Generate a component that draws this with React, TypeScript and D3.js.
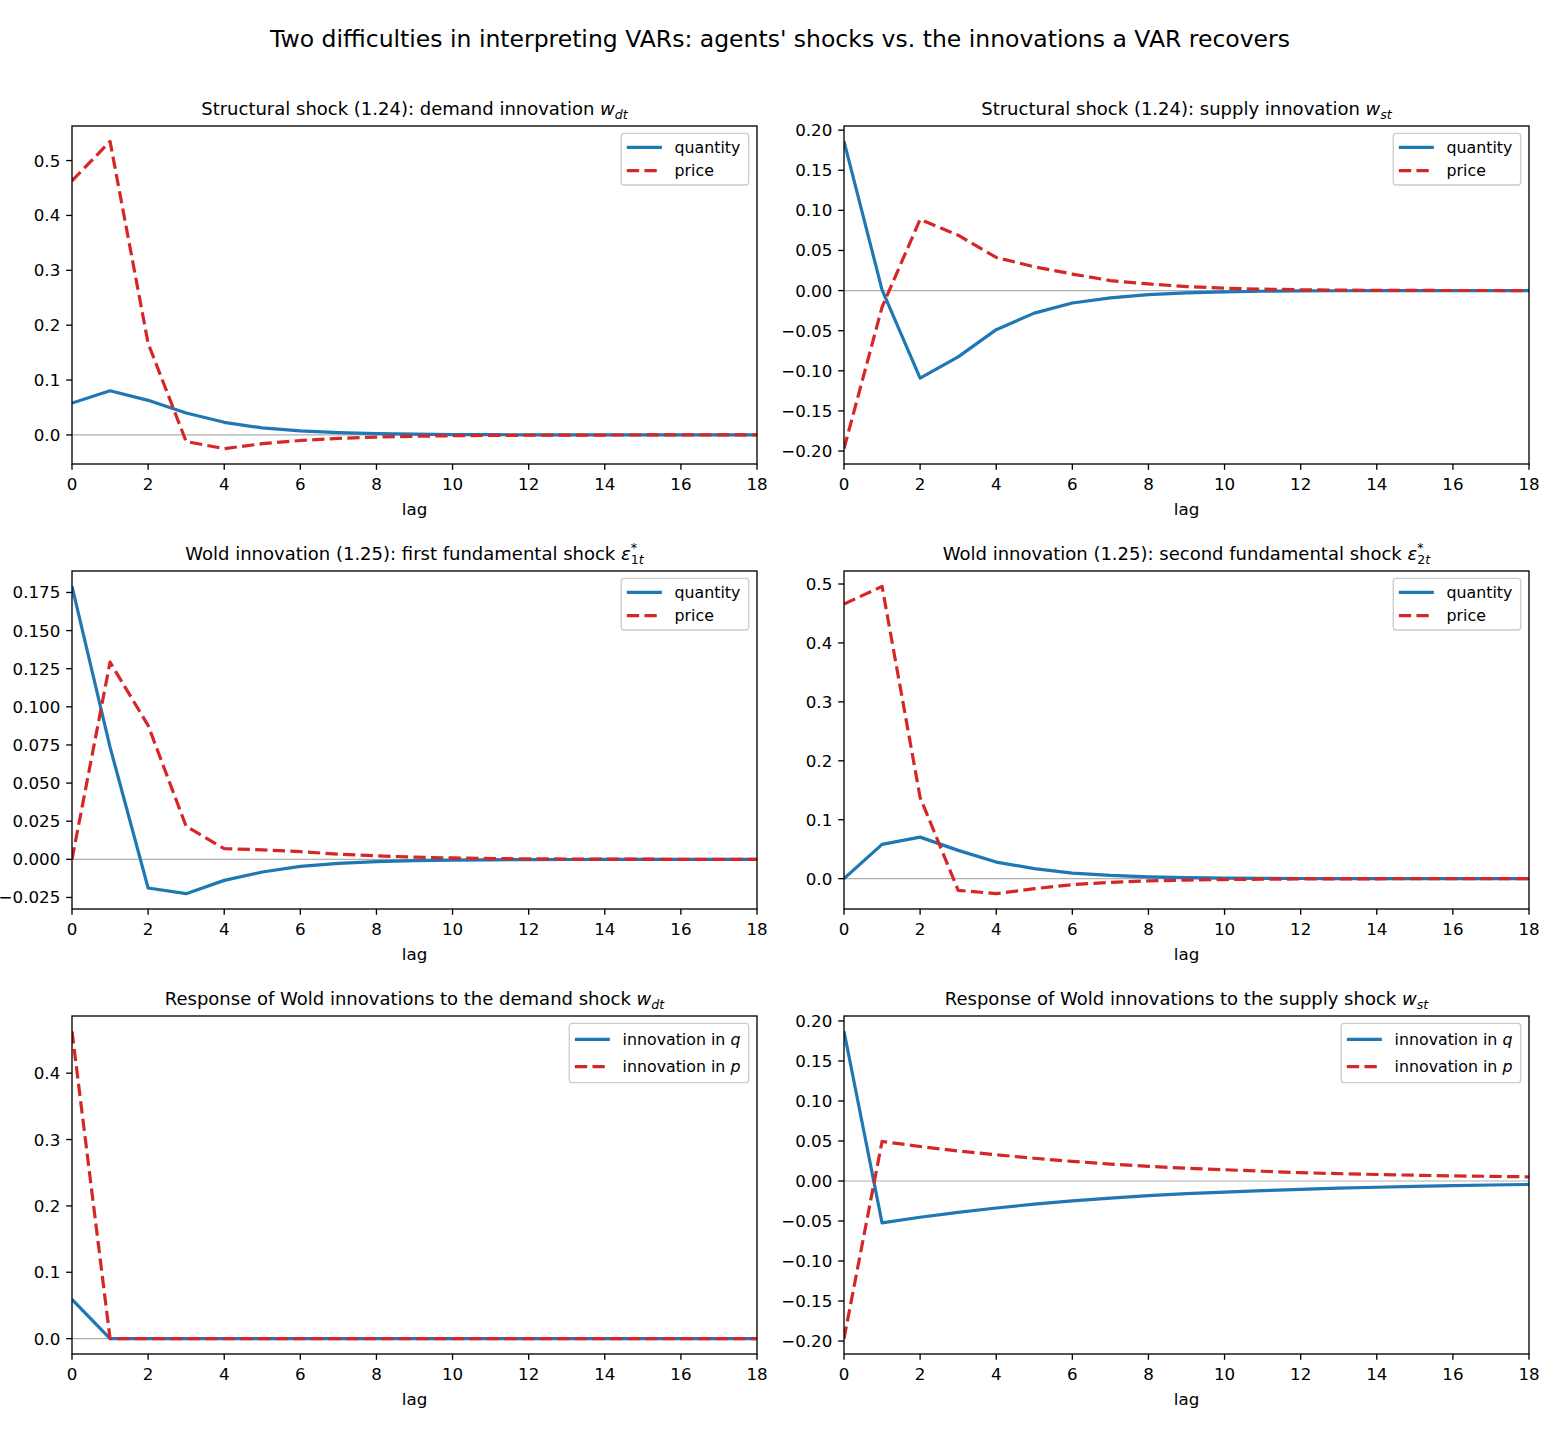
import React, { useEffect } from "react";
import * as d3 from "d3";

// horizon (lags) shared by every panel
const lags = [0, 1, 2, 3, 4, 5, 6, 7, 8, 9, 10, 11, 12, 13, 14, 15, 16, 17, 18];
const xTicks = [0, 2, 4, 6, 8, 10, 12, 14, 16, 18];

// Structural shock (1.24): demand innovation
const demandQ = [0.058, 0.0805, 0.063, 0.04, 0.023, 0.0127, 0.0073, 0.0041, 0.0023, 0.0013, 0.0007, 0.0004, 0.0002, 0.0001, 0.0001, 0, 0, 0, 0];
const demandP = [0.463, 0.535, 0.167, -0.012, -0.025, -0.016, -0.0102, -0.0063, -0.0039, -0.0024, -0.0015, -0.0009, -0.0006, -0.0003, -0.0002, -0.0001, -0.0001, 0, 0];

// Structural shock (1.24): supply innovation
const supplyQ = [0.186, 0.001, -0.109, -0.0826, -0.0487, -0.0281, -0.0155, -0.009, -0.005, -0.0028, -0.0015, -0.0008, -0.0004, -0.0002, -0.0001, -0.0001, 0, 0, 0];
const supplyP = [-0.197, -0.0206, 0.0888, 0.069, 0.0413, 0.0297, 0.0206, 0.0124, 0.0083, 0.005, 0.003, 0.0018, 0.001, 0.0006, 0.0003, 0.0002, 0.0001, 0.0001, 0];

// Wold innovation (1.25): first fundamental shock
const wold1Q = [0.179, 0.0736, -0.0188, -0.0225, -0.0138, -0.0083, -0.0046, -0.0026, -0.0015, -0.0008, -0.0005, -0.0003, -0.0002, -0.0001, 0, 0, 0, 0, 0];
const wold1P = [0, 0.1293, 0.0878, 0.0216, 0.007, 0.0062, 0.005, 0.0034, 0.0023, 0.0014, 0.0009, 0.0005, 0.0003, 0.0002, 0.0001, 0.0001, 0, 0, 0];

// Wold innovation (1.25): second fundamental shock
const wold2Q = [0, 0.0581, 0.0705, 0.048, 0.0282, 0.017, 0.0095, 0.0055, 0.0031, 0.0018, 0.001, 0.0006, 0.0003, 0.0002, 0.0001, 0.0001, 0, 0, 0];
const wold2P = [0.466, 0.496, 0.138, -0.0198, -0.0254, -0.017, -0.0102, -0.0062, -0.0038, -0.0024, -0.0015, -0.0009, -0.0005, -0.0003, -0.0002, -0.0001, -0.0001, 0, 0];

// Response of Wold innovations to the demand shock
const respDemandQ = [0.059, 0, 0, 0, 0, 0, 0, 0, 0, 0, 0, 0, 0, 0, 0, 0, 0, 0, 0];
const respDemandP = [0.463, 0, 0, 0, 0, 0, 0, 0, 0, 0, 0, 0, 0, 0, 0, 0, 0, 0, 0];

// Response of Wold innovations to the supply shock
const respSupplyQ = [0.187, -0.0524, -0.0453, -0.0392, -0.0337, -0.029, -0.0248, -0.0213, -0.0183, -0.0158, -0.0138, -0.012, -0.0104, -0.009, -0.0078, -0.0067, -0.0058, -0.005, -0.0043];
const respSupplyP = [-0.197, 0.0494, 0.0431, 0.0375, 0.0328, 0.0284, 0.0245, 0.0212, 0.0183, 0.016, 0.0141, 0.0122, 0.0104, 0.0092, 0.0081, 0.0072, 0.0064, 0.0058, 0.0052];

// y tick values and their labels
const ticksTenths5 = [0, 0.1, 0.2, 0.3, 0.4, 0.5];
const labelsTenths5 = ["0.0", "0.1", "0.2", "0.3", "0.4", "0.5"];
const ticksTenths4 = [0, 0.1, 0.2, 0.3, 0.4];
const labelsTenths4 = ["0.0", "0.1", "0.2", "0.3", "0.4"];
const ticksTwenty = [-0.2, -0.15, -0.1, -0.05, 0, 0.05, 0.1, 0.15, 0.2];
const labelsTwenty = ["\u22120.20", "\u22120.15", "\u22120.10", "\u22120.05", "0.00", "0.05", "0.10", "0.15", "0.20"];
const ticksQuarter = [-0.025, 0, 0.025, 0.05, 0.075, 0.1, 0.125, 0.15, 0.175];
const labelsQuarter = ["\u22120.025", "0.000", "0.025", "0.050", "0.075", "0.100", "0.125", "0.150", "0.175"];

const FIG_W = 1560;
const FIG_H = 1430;
const colLeft = [72, 844];
const rowTop = [126, 571, 1016];
const AX_W = 685;
const AX_H = 338;

const BLUE = "#1f77b4";
const RED = "#d62728";
const FONT = "'DejaVu Sans', sans-serif";
const TICK_FS = 16.7;
const TITLE_FS = 18;
const LEG_FS = 15.8;

type Title = { text: string; sym: "w" | "eps"; sub: string; subLead?: string };

interface Panel {
  title: Title;
  q: number[];
  p: number[];
  yTicks: number[];
  yLabels: string[];
  innovationLegend: boolean;
}

const panels: Panel[] = [
  { title: { text: "Structural shock (1.24): demand innovation ", sym: "w", sub: "dt" }, q: demandQ, p: demandP, yTicks: ticksTenths5, yLabels: labelsTenths5, innovationLegend: false },
  { title: { text: "Structural shock (1.24): supply innovation ", sym: "w", sub: "st" }, q: supplyQ, p: supplyP, yTicks: ticksTwenty, yLabels: labelsTwenty, innovationLegend: false },
  { title: { text: "Wold innovation (1.25): first fundamental shock ", sym: "eps", sub: "t", subLead: "1" }, q: wold1Q, p: wold1P, yTicks: ticksQuarter, yLabels: labelsQuarter, innovationLegend: false },
  { title: { text: "Wold innovation (1.25): second fundamental shock ", sym: "eps", sub: "t", subLead: "2" }, q: wold2Q, p: wold2P, yTicks: ticksTenths5, yLabels: labelsTenths5, innovationLegend: false },
  { title: { text: "Response of Wold innovations to the demand shock ", sym: "w", sub: "dt" }, q: respDemandQ, p: respDemandP, yTicks: ticksTenths4, yLabels: labelsTenths4, innovationLegend: true },
  { title: { text: "Response of Wold innovations to the supply shock ", sym: "w", sub: "st" }, q: respSupplyQ, p: respSupplyP, yTicks: ticksTwenty, yLabels: labelsTwenty, innovationLegend: true },
];

let ctx: CanvasRenderingContext2D | null = null;
function measure(text: string, italic = false, size = LEG_FS): number {
  if (!ctx) ctx = document.createElement("canvas").getContext("2d");
  if (!ctx) return text.length * size * 0.6;
  ctx.font = `${italic ? "italic " : ""}${size}px 'DejaVu Sans'`;
  return ctx.measureText(text).width;
}

const TitleText = ({ t, x, y }: { t: Title; x: number; y: number }) => {
  const s = TITLE_FS * 0.7;
  if (t.sym === "w") {
    return (
      <text x={x} y={y} textAnchor="middle" fontSize={TITLE_FS} fontFamily={FONT}>
        {t.text}
        <tspan fontStyle="italic">w</tspan>
        <tspan fontStyle="italic" fontSize={s} dy={4}>{t.sub}</tspan>
      </text>
    );
  }
  const starW = measure("*", false, s);
  return (
    <text x={x} y={y} textAnchor="middle" fontSize={TITLE_FS} fontFamily={FONT}>
      {t.text}
      <tspan fontStyle="italic">{"\u03b5"}</tspan>
      <tspan fontSize={s} dy={-8}>*</tspan>
      <tspan fontSize={s} dx={-starW} dy={12}>{t.subLead}</tspan>
      <tspan fontSize={s} fontStyle="italic">{t.sub}</tspan>
    </text>
  );
};

const Legend = ({ right, top, innovation }: { right: number; top: number; innovation: boolean }) => {
  const textW = innovation
    ? measure("innovation in ") + measure("q", true)
    : measure("quantity");
  const padL = 5.6, handle = 35, gap = 12.7, padR = 8.3;
  const w = padL + handle + gap + textW + padR;
  const x0 = right - w;
  const row1 = top + (innovation ? 16 : 14);
  const row2 = row1 + (innovation ? 27.4 : 23.4);
  const h = row2 + (innovation ? 16 : 14.3) - top;
  const hx = x0 + padL;
  const tx = hx + handle + gap;
  const rows = [
    { y: row1, color: BLUE, dash: undefined as string | undefined, plain: innovation ? "innovation in " : "quantity", sym: innovation ? "q" : "" },
    { y: row2, color: RED, dash: "12.3,5.3", plain: innovation ? "innovation in " : "price", sym: innovation ? "p" : "" },
  ];
  return (
    <g>
      <rect x={x0} y={top} width={w} height={h} rx={3} fill="white" fillOpacity={0.8} stroke="#cccccc" strokeWidth={1.3} />
      {rows.map((r, i) => (
        <g key={i}>
          <line x1={hx} x2={hx + handle} y1={r.y} y2={r.y} stroke={r.color} strokeWidth={3.2} strokeDasharray={r.dash} />
          <text x={tx} y={r.y + 5.7} fontSize={LEG_FS} fontFamily={FONT}>
            {r.plain}
            {r.sym && <tspan fontStyle="italic">{r.sym}</tspan>}
          </text>
        </g>
      ))}
    </g>
  );
};

const PanelView = ({ panel, idx }: { panel: Panel; idx: number }) => {
  const left = colLeft[idx % 2];
  const top = rowTop[Math.floor(idx / 2)];
  const right = left + AX_W;
  const bottom = top + AX_H;

  const all = panel.q.concat(panel.p);
  const [mn, mx] = d3.extent(all) as [number, number];
  const pad = (mx - mn) * 0.05;
  const x = d3.scaleLinear().domain([0, 18]).range([left, right]);
  const y = d3.scaleLinear().domain([mn - pad, mx + pad]).range([bottom, top]);

  const line = d3
    .line<number>()
    .x((_, i) => x(lags[i]))
    .y((d) => y(d));

  const clipId = `clip-${idx}`;
  return (
    <g>
      <defs>
        <clipPath id={clipId}>
          <rect x={left} y={top} width={AX_W} height={AX_H} />
        </clipPath>
      </defs>
      <line x1={left} x2={right} y1={y(0)} y2={y(0)} stroke="#b0b0b0" strokeWidth={1.2} />
      <g clipPath={`url(#${clipId})`}>
        <path d={line(panel.q) || ""} fill="none" stroke={BLUE} strokeWidth={3.2} strokeLinejoin="round" />
        <path d={line(panel.p) || ""} fill="none" stroke={RED} strokeWidth={3.2} strokeDasharray="12.3,5.3" strokeLinejoin="round" />
      </g>
      <rect x={left} y={top} width={AX_W} height={AX_H} fill="none" stroke="black" strokeWidth={1.33} />
      {xTicks.map((t) => (
        <g key={`x${t}`}>
          <line x1={x(t)} x2={x(t)} y1={bottom} y2={bottom + 5.8} stroke="black" strokeWidth={1.33} />
          <text x={x(t)} y={bottom + 26} textAnchor="middle" fontSize={TICK_FS} fontFamily={FONT}>{t}</text>
        </g>
      ))}
      {panel.yTicks.map((t, i) => (
        <g key={`y${i}`}>
          <line x1={left - 5.8} x2={left} y1={y(t)} y2={y(t)} stroke="black" strokeWidth={1.33} />
          <text x={left - 11.7} y={y(t) + 6} textAnchor="end" fontSize={TICK_FS} fontFamily={FONT}>{panel.yLabels[i]}</text>
        </g>
      ))}
      <text x={(left + right) / 2} y={bottom + 51} textAnchor="middle" fontSize={TICK_FS} fontFamily={FONT}>lag</text>
      <TitleText t={panel.title} x={(left + right) / 2} y={top - 11} />
      <Legend right={right - 8.3} top={top + 7.3} innovation={panel.innovationLegend} />
    </g>
  );
};

export default function App() {
  useEffect(() => {
    document.body.style.margin = "0";
  }, []);
  return (
    <svg width={FIG_W} height={FIG_H} style={{ display: "block", background: "white" }}>
      <rect width={FIG_W} height={FIG_H} fill="white" />
      <text x={FIG_W / 2} y={47} textAnchor="middle" fontSize={23.5} fontFamily={FONT}>
        Two difficulties in interpreting VARs: agents' shocks vs. the innovations a VAR recovers
      </text>
      {panels.map((p, i) => (
        <PanelView key={i} panel={p} idx={i} />
      ))}
    </svg>
  );
}
